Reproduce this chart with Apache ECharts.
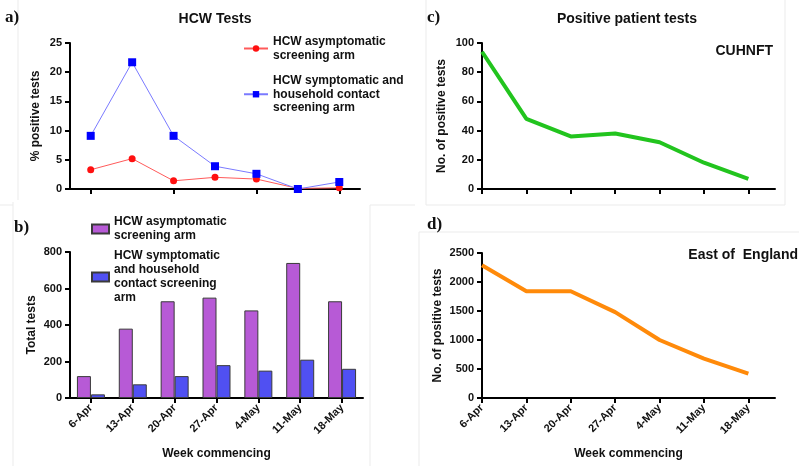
<!DOCTYPE html>
<html>
<head>
<meta charset="utf-8">
<script src="https://cdn.jsdelivr.net/npm/echarts@6/dist/echarts.min.js"></script>
<style>html,body{margin:0;padding:0;background:#fff}#c{width:799px;height:466px}</style>
</head>
<body>
<div id="c"></div>
<script>
// ---- data ----
var weeks = ['6-Apr', '13-Apr', '20-Apr', '27-Apr', '4-May', '11-May', '18-May'];
var pctAsym = [3.3, 5.2, 1.4, 2.0, 1.7, 0.1, 0.2];
var pctSymp = [9.1, 21.7, 9.1, 3.9, 2.6, 0.0, 1.2];
var totalAsym = [120, 380, 530, 550, 480, 740, 530];
var totalSymp = [20, 75, 120, 180, 150, 210, 160];
var cuhPos = [94, 48, 36, 38, 32, 18, 7];
var eoePos = [2290, 1840, 1840, 1480, 1000, 680, 420];
var nameAsymA = 'HCW asymptomatic\nscreening arm';
var nameSympA = 'HCW symptomatic and\nhousehold contact\nscreening arm';
var nameAsymB = 'HCW asymptomatic\nscreening arm ';
var nameSympB = 'HCW symptomatic\nand household\ncontact screening\narm';

var FONT = '"Liberation Sans", Arial, sans-serif';
var SERIF = '"Liberation Serif", "Times New Roman", serif';
var idx = weeks.map(function (_, i) { return i; });

function yAxis(gi, max, interval, name, gap) {
  return {
    type: 'value', gridIndex: gi, min: 0, max: max, interval: interval,
    name: name, nameLocation: 'middle', nameGap: gap, nameRotate: 90,
    nameTextStyle: { fontFamily: FONT, fontWeight: 'bold', fontSize: 12, color: '#111' },
    axisLine: { show: true, lineStyle: { color: '#000', width: 2 } },
    axisTick: { show: true, length: 5, lineStyle: { color: '#000', width: 2 } },
    axisLabel: { fontFamily: FONT, fontWeight: 'bold', fontSize: 11, color: '#111', margin: 8,
      formatter: function (v) { return String(v); } },
    splitLine: { show: false }
  };
}
var axisLineStyle = { show: true, onZero: false, lineStyle: { color: '#000', width: 2 } };
var xLabelStyle = { fontFamily: FONT, fontWeight: 'bold', fontSize: 11, color: '#111', rotate: 45, margin: 8, interval: 0 };
var xNameStyle = { fontFamily: FONT, fontWeight: 'bold', fontSize: 12, color: '#111' };

var chart = echarts.init(document.getElementById('c'), null, { renderer: 'canvas' });
var frame = { stroke: '#ebebeb', lineWidth: 1 };
function line(x1, y1, x2, y2) {
  return { type: 'line', shape: { x1: x1, y1: y1, x2: x2, y2: y2 }, style: frame, silent: true };
}
function txt(x, y, t, size, align, family) {
  return { type: 'text', x: x, y: y, silent: true,
    style: { text: t, font: 'bold ' + size + 'px ' + (family || FONT), fill: '#111', align: align || 'left', verticalAlign: 'middle' } };
}

chart.setOption({
  animation: false,
  backgroundColor: '#fff',
  grid: [
    { left: 70, right: 439, top: 43, bottom: 277 },
    { left: 70, right: 436, top: 252, bottom: 68 },
    { left: 482, right: 24, top: 43, bottom: 277 },
    { left: 482, right: 24, top: 253, bottom: 68 }
  ],
  xAxis: [
    { type: 'category', gridIndex: 0, data: weeks, boundaryGap: true,
      axisLine: axisLineStyle, axisTick: { show: true, alignWithLabel: true, length: 5, lineStyle: { color: '#000', width: 2 } },
      axisLabel: { show: false }, splitLine: { show: false } },
    { type: 'category', gridIndex: 1, data: weeks, boundaryGap: true,
      axisLine: axisLineStyle, axisTick: { show: true, alignWithLabel: true, length: 5, lineStyle: { color: '#000', width: 2 } },
      axisLabel: xLabelStyle, name: 'Week commencing', nameLocation: 'middle', nameGap: 50, nameTextStyle: xNameStyle },
    { type: 'value', gridIndex: 2, min: 0, max: 6.6,
      axisLine: axisLineStyle, axisTick: { show: true, length: 5, customValues: idx, lineStyle: { color: '#000', width: 2 } },
      axisLabel: { show: false }, splitLine: { show: false } },
    { type: 'value', gridIndex: 3, min: 0, max: 6.6,
      axisLine: axisLineStyle, axisTick: { show: true, length: 5, customValues: idx, lineStyle: { color: '#000', width: 2 } },
      axisLabel: Object.assign({}, xLabelStyle, { customValues: idx, formatter: function (v) { return weeks[Math.round(v)] || ''; } }),
      splitLine: { show: false },
      name: 'Week commencing', nameLocation: 'middle', nameGap: 50, nameTextStyle: xNameStyle }
  ],
  yAxis: [
    yAxis(0, 25, 5, '% positive tests', 28),
    yAxis(1, 800, 200, 'Total tests', 32),
    yAxis(2, 100, 20, 'No. of positive tests', 34),
    yAxis(3, 2500, 500, 'No. of positive tests', 38)
  ],
  legend: [
    { data: [nameAsymA, nameSympA], orient: 'vertical', left: 238, top: 30, itemGap: 12,
      itemWidth: 24, itemHeight: 8,
      textStyle: { fontFamily: FONT, fontWeight: 'bold', fontSize: 12, color: '#111', lineHeight: 13.5 } },
    { data: [nameAsymB, nameSympB], orient: 'vertical', left: 86, top: 210, itemGap: 6,
      itemWidth: 17, itemHeight: 9, icon: 'rect',
      textStyle: { fontFamily: FONT, fontWeight: 'bold', fontSize: 12, color: '#111', lineHeight: 14 } }
  ],
  series: [
    { name: nameAsymA, type: 'line', xAxisIndex: 0, yAxisIndex: 0, data: pctAsym,
      symbol: 'circle', symbolSize: 7, itemStyle: { color: '#ff1010' },
      lineStyle: { color: '#ff5a5a', width: 1 } },
    { name: nameSympA, type: 'line', xAxisIndex: 0, yAxisIndex: 0, data: pctSymp,
      symbol: 'rect', symbolSize: 8, itemStyle: { color: '#0000ff' },
      lineStyle: { color: '#7a7aff', width: 1 } },
    { name: nameAsymB, type: 'bar', xAxisIndex: 1, yAxisIndex: 1, data: totalAsym,
      barWidth: 14, barGap: '0%', itemStyle: { color: '#b75ad6', borderColor: '#3a3a3a', borderWidth: 1 } },
    { name: nameSympB, type: 'bar', xAxisIndex: 1, yAxisIndex: 1, data: totalSymp,
      barWidth: 14, barGap: '0%', itemStyle: { color: '#5050f2', borderColor: '#3a3a3a', borderWidth: 1 } },
    { type: 'line', xAxisIndex: 2, yAxisIndex: 2, data: cuhPos.map(function (v, i) { return [i, v]; }),
      symbol: 'none', lineStyle: { color: '#22c41e', width: 4 } },
    { type: 'line', xAxisIndex: 3, yAxisIndex: 3, data: eoePos.map(function (v, i) { return [i, v]; }),
      symbol: 'none', lineStyle: { color: '#ff8a0a', width: 4 } }
  ],
  graphic: [
    line(18, 0, 18, 200),
    line(13, 202, 13, 466),
    line(13, 205, 0, 205),
    line(370, 205, 415, 205),
    line(370, 205, 370, 466),
    line(426, 0, 426, 205),
    line(426, 205, 785, 205),
    line(785, 0, 785, 205),
    line(419, 232, 799, 232),
    line(419, 232, 419, 466),
    txt(5, 18, 'a)', 17, 'left', SERIF),
    txt(14, 228, 'b)', 17, 'left', SERIF),
    txt(427, 18, 'c)', 17, 'left', SERIF),
    txt(427, 225, 'd)', 17, 'left', SERIF),
    txt(215, 19, 'HCW Tests', 14, 'center'),
    txt(627, 19, 'Positive patient tests', 14, 'center'),
    txt(773, 51, 'CUHNFT', 14, 'right'),
    txt(798, 255, 'East of  England', 14, 'right')
  ]
});
</script>
</body>
</html>
